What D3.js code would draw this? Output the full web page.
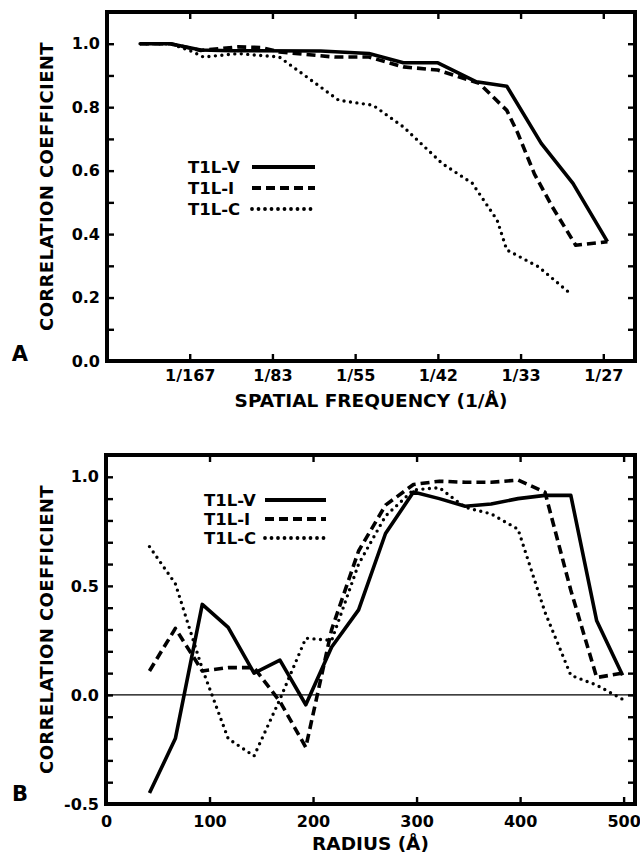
<!DOCTYPE html>
<html><head><meta charset="utf-8">
<script src="https://cdn.jsdelivr.net/npm/d3@7"></script>
<style>
body{margin:0;background:#fff}
svg{display:block}
text{font-family:"DejaVu Sans",sans-serif;font-weight:bold;fill:#000}
</style>
</head><body>
<svg id="c" width="640" height="854"></svg>
<script>
// ---------- DATA ----------
const seriesNames = ["T1L-V", "T1L-I", "T1L-C"];
// Panel A: spatial frequency (1/Å) vs correlation coefficient
const freqTickValues = [0.006, 0.012, 0.018, 0.024, 0.030, 0.036];
const freqTickLabels = ["1/167", "1/83", "1/55", "1/42", "1/33", "1/27"];
const corrTicksA = [0, 0.1, 0.2, 0.3, 0.4, 0.5, 0.6, 0.7, 0.8, 0.9, 1.0];
const corrLabelsA = [0, 0.2, 0.4, 0.6, 0.8, 1.0];

const freqV = [0.0024, 0.0046, 0.0068, 0.0090, 0.0155, 0.0190, 0.0215, 0.0240, 0.0268, 0.0290, 0.0315, 0.0338, 0.0363];
const corrV = [1.000, 1.000, 0.980, 0.978, 0.977, 0.969, 0.940, 0.940, 0.880, 0.866, 0.686, 0.560, 0.376];

const freqI = [0.0024, 0.0046, 0.0068, 0.0095, 0.0112, 0.0125, 0.0165, 0.0190, 0.0215, 0.0240, 0.0270, 0.0290, 0.0298, 0.0310, 0.0323, 0.0340, 0.0363];
const corrI = [1.000, 1.000, 0.979, 0.990, 0.988, 0.974, 0.958, 0.958, 0.927, 0.917, 0.875, 0.790, 0.718, 0.590, 0.486, 0.365, 0.376];

const freqC = [0.0024, 0.0046, 0.0062, 0.0070, 0.0095, 0.0125, 0.0145, 0.0168, 0.0193, 0.0215, 0.0243, 0.0265, 0.0283, 0.0290, 0.0313, 0.0336];
const corrC = [1.000, 1.000, 0.975, 0.958, 0.969, 0.958, 0.895, 0.822, 0.806, 0.738, 0.623, 0.560, 0.444, 0.350, 0.297, 0.213];

// Panel B: radius (Å) vs correlation coefficient
const radiusTicks = [0, 100, 200, 300, 400, 500];
const corrTicksB = [-0.5, -0.4, -0.3, -0.2, -0.1, 0, 0.1, 0.2, 0.3, 0.4, 0.5, 0.6, 0.7, 0.8, 0.9, 1.0];
const corrLabelsB = [-0.5, 0, 0.5, 1.0];
const radius = [42, 67, 93, 118, 143, 168, 193, 218, 244, 270, 297, 322, 347, 372, 398, 424, 449, 474, 499];
const radV = [-0.45, -0.20, 0.415, 0.31, 0.10, 0.16, -0.045, 0.22, 0.39, 0.74, 0.93, 0.90, 0.865, 0.875, 0.90, 0.915, 0.915, 0.34, 0.09];
const radI = [0.11, 0.305, 0.11, 0.125, 0.125, -0.03, -0.24, 0.30, 0.66, 0.87, 0.965, 0.98, 0.975, 0.975, 0.985, 0.93, 0.48, 0.08, 0.10];
const radC = [0.68, 0.51, 0.12, -0.20, -0.28, -0.02, 0.26, 0.25, 0.60, 0.82, 0.94, 0.95, 0.86, 0.83, 0.76, 0.38, 0.09, 0.045, -0.02];

// ---------- DRAW ----------
const svg = d3.select("#c");
const styles = [
  {dash: null, cap: "butt", w: 3.6},
  {dash: "9,5", cap: "butt", w: 3.6},
  {dash: "0,6.5", cap: "round", w: 3.4}
];

function panel(opt) {
  const {x, y, xTicks, xFormat, yTicks, yFormat, xPad, series, legend, title, xTitle, xTitleY, letter, letterY, zeroLine} = opt;
  const [x0, x1] = x.range();
  const [y0, y1] = y.range(); // y0 bottom, y1 top
  const g = svg.append("g");

  const styleAxis = sel => {
    sel.select(".domain").remove();
    sel.selectAll(".tick line").attr("stroke", "#000").attr("stroke-width", 2.4);
    sel.selectAll("text").attr("font-family", "DejaVu Sans, sans-serif").attr("font-weight", "bold").attr("font-size", 16).attr("fill", "#000");
    sel.attr("font-family", null).attr("font-size", null);
  };

  g.append("g").attr("transform", `translate(0,${y0})`)
    .call(d3.axisBottom(x).tickValues(xTicks).tickFormat(xFormat).tickSize(-7).tickSizeOuter(0).tickPadding(xPad))
    .call(styleAxis);
  g.append("g").attr("transform", `translate(0,${y1})`)
    .call(d3.axisTop(x).tickValues(xTicks).tickFormat("").tickSize(-7).tickSizeOuter(0))
    .call(styleAxis);
  g.append("g").attr("transform", `translate(${x0},0)`)
    .call(d3.axisLeft(y).tickValues(yTicks).tickFormat(yFormat).tickSize(-7).tickSizeOuter(0).tickPadding(7))
    .call(styleAxis);
  g.append("g").attr("transform", `translate(${x1},0)`)
    .call(d3.axisRight(y).tickValues(yTicks).tickFormat("").tickSize(-7).tickSizeOuter(0))
    .call(styleAxis);

  if (zeroLine) {
    g.append("line").attr("x1", x0).attr("x2", x1).attr("y1", y(0)).attr("y2", y(0))
      .attr("stroke", "#000").attr("stroke-width", 1.2);
  }

  const line = d3.line().x(d => x(d[0])).y(d => y(d[1]));
  series.forEach((s, i) => {
    const pts = s.xs.map((v, k) => [v, s.ys[k]]);
    g.append("path").datum(pts).attr("d", line)
      .attr("fill", "none").attr("stroke", "#000")
      .attr("stroke-width", styles[i].w)
      .attr("stroke-linecap", styles[i].cap)
      .attr("stroke-linejoin", "round")
      .attr("stroke-dasharray", styles[i].dash);
  });

  // frame
  g.append("rect").attr("x", x0).attr("y", y1).attr("width", x1 - x0).attr("height", y0 - y1)
    .attr("fill", "none").attr("stroke", "#000").attr("stroke-width", 4);

  // legend
  seriesNames.forEach((n, i) => {
    const cy = legend.y + i * legend.dy;
    g.append("text").attr("x", legend.textStart).attr("y", cy + 6).attr("text-anchor", "start")
      .attr("font-size", 16.5).text(n);
    g.append("line").attr("x1", legend.l0).attr("x2", legend.l1).attr("y1", cy).attr("y2", cy)
      .attr("stroke", "#000").attr("stroke-width", styles[i].w + 0.4)
      .attr("stroke-linecap", styles[i].cap)
      .attr("stroke-dasharray", styles[i].dash);
  });

  // titles
  const cyMid = (y0 + y1) / 2;
  g.append("text").attr("transform", `translate(53,${cyMid}) rotate(-90)`)
    .attr("text-anchor", "middle").attr("font-size", 18).attr("letter-spacing", 0.4)
    .text(title);
  g.append("text").attr("x", (x0 + x1) / 2).attr("y", xTitleY).attr("text-anchor", "middle")
    .attr("font-size", 18.5).text(xTitle);
  g.append("text").attr("x", 20).attr("y", letterY).attr("text-anchor", "middle")
    .attr("font-size", 21).text(letter);
}

// Panel A
const xA = d3.scaleLinear().domain([0, 0.0383]).range([107, 635]);
const yA = d3.scaleLinear().domain([0, 1.1]).range([361, 12]);
panel({
  x: xA, y: yA,
  xTicks: freqTickValues, xFormat: (d, i) => freqTickLabels[i], xPad: 9,
  yTicks: corrTicksA,
  yFormat: d => corrLabelsA.some(v => Math.abs(v - d) < 1e-6) ? d.toFixed(1) : "",
  series: [{xs: freqV, ys: corrV}, {xs: freqI, ys: corrI}, {xs: freqC, ys: corrC}],
  legend: {y: 167, dy: 21, textStart: 188, l0: 252, l1: 315},
  title: "CORRELATION  COEFFICIENT",
  xTitle: "SPATIAL  FREQUENCY (1/Å)", xTitleY: 407,
  letter: "A", letterY: 361, zeroLine: false
});

// Panel B
const xB = d3.scaleLinear().domain([0, 511]).range([106, 635]);
const yB = d3.scaleLinear().domain([-0.5, 1.1]).range([804, 455]);
panel({
  x: xB, y: yB,
  xTicks: radiusTicks, xFormat: d => String(d), xPad: 12,
  yTicks: corrTicksB,
  yFormat: d => corrLabelsB.some(v => Math.abs(v - d) < 1e-6) ? d.toFixed(1) : "",
  series: [{xs: radius, ys: radV}, {xs: radius, ys: radI}, {xs: radius, ys: radC}],
  legend: {y: 500, dy: 19, textStart: 204, l0: 265, l1: 326},
  title: "CORRELATION  COEFFICIENT",
  xTitle: "RADIUS (Å)", xTitleY: 850,
  letter: "B", letterY: 801, zeroLine: true
});
</script>
</body></html>
